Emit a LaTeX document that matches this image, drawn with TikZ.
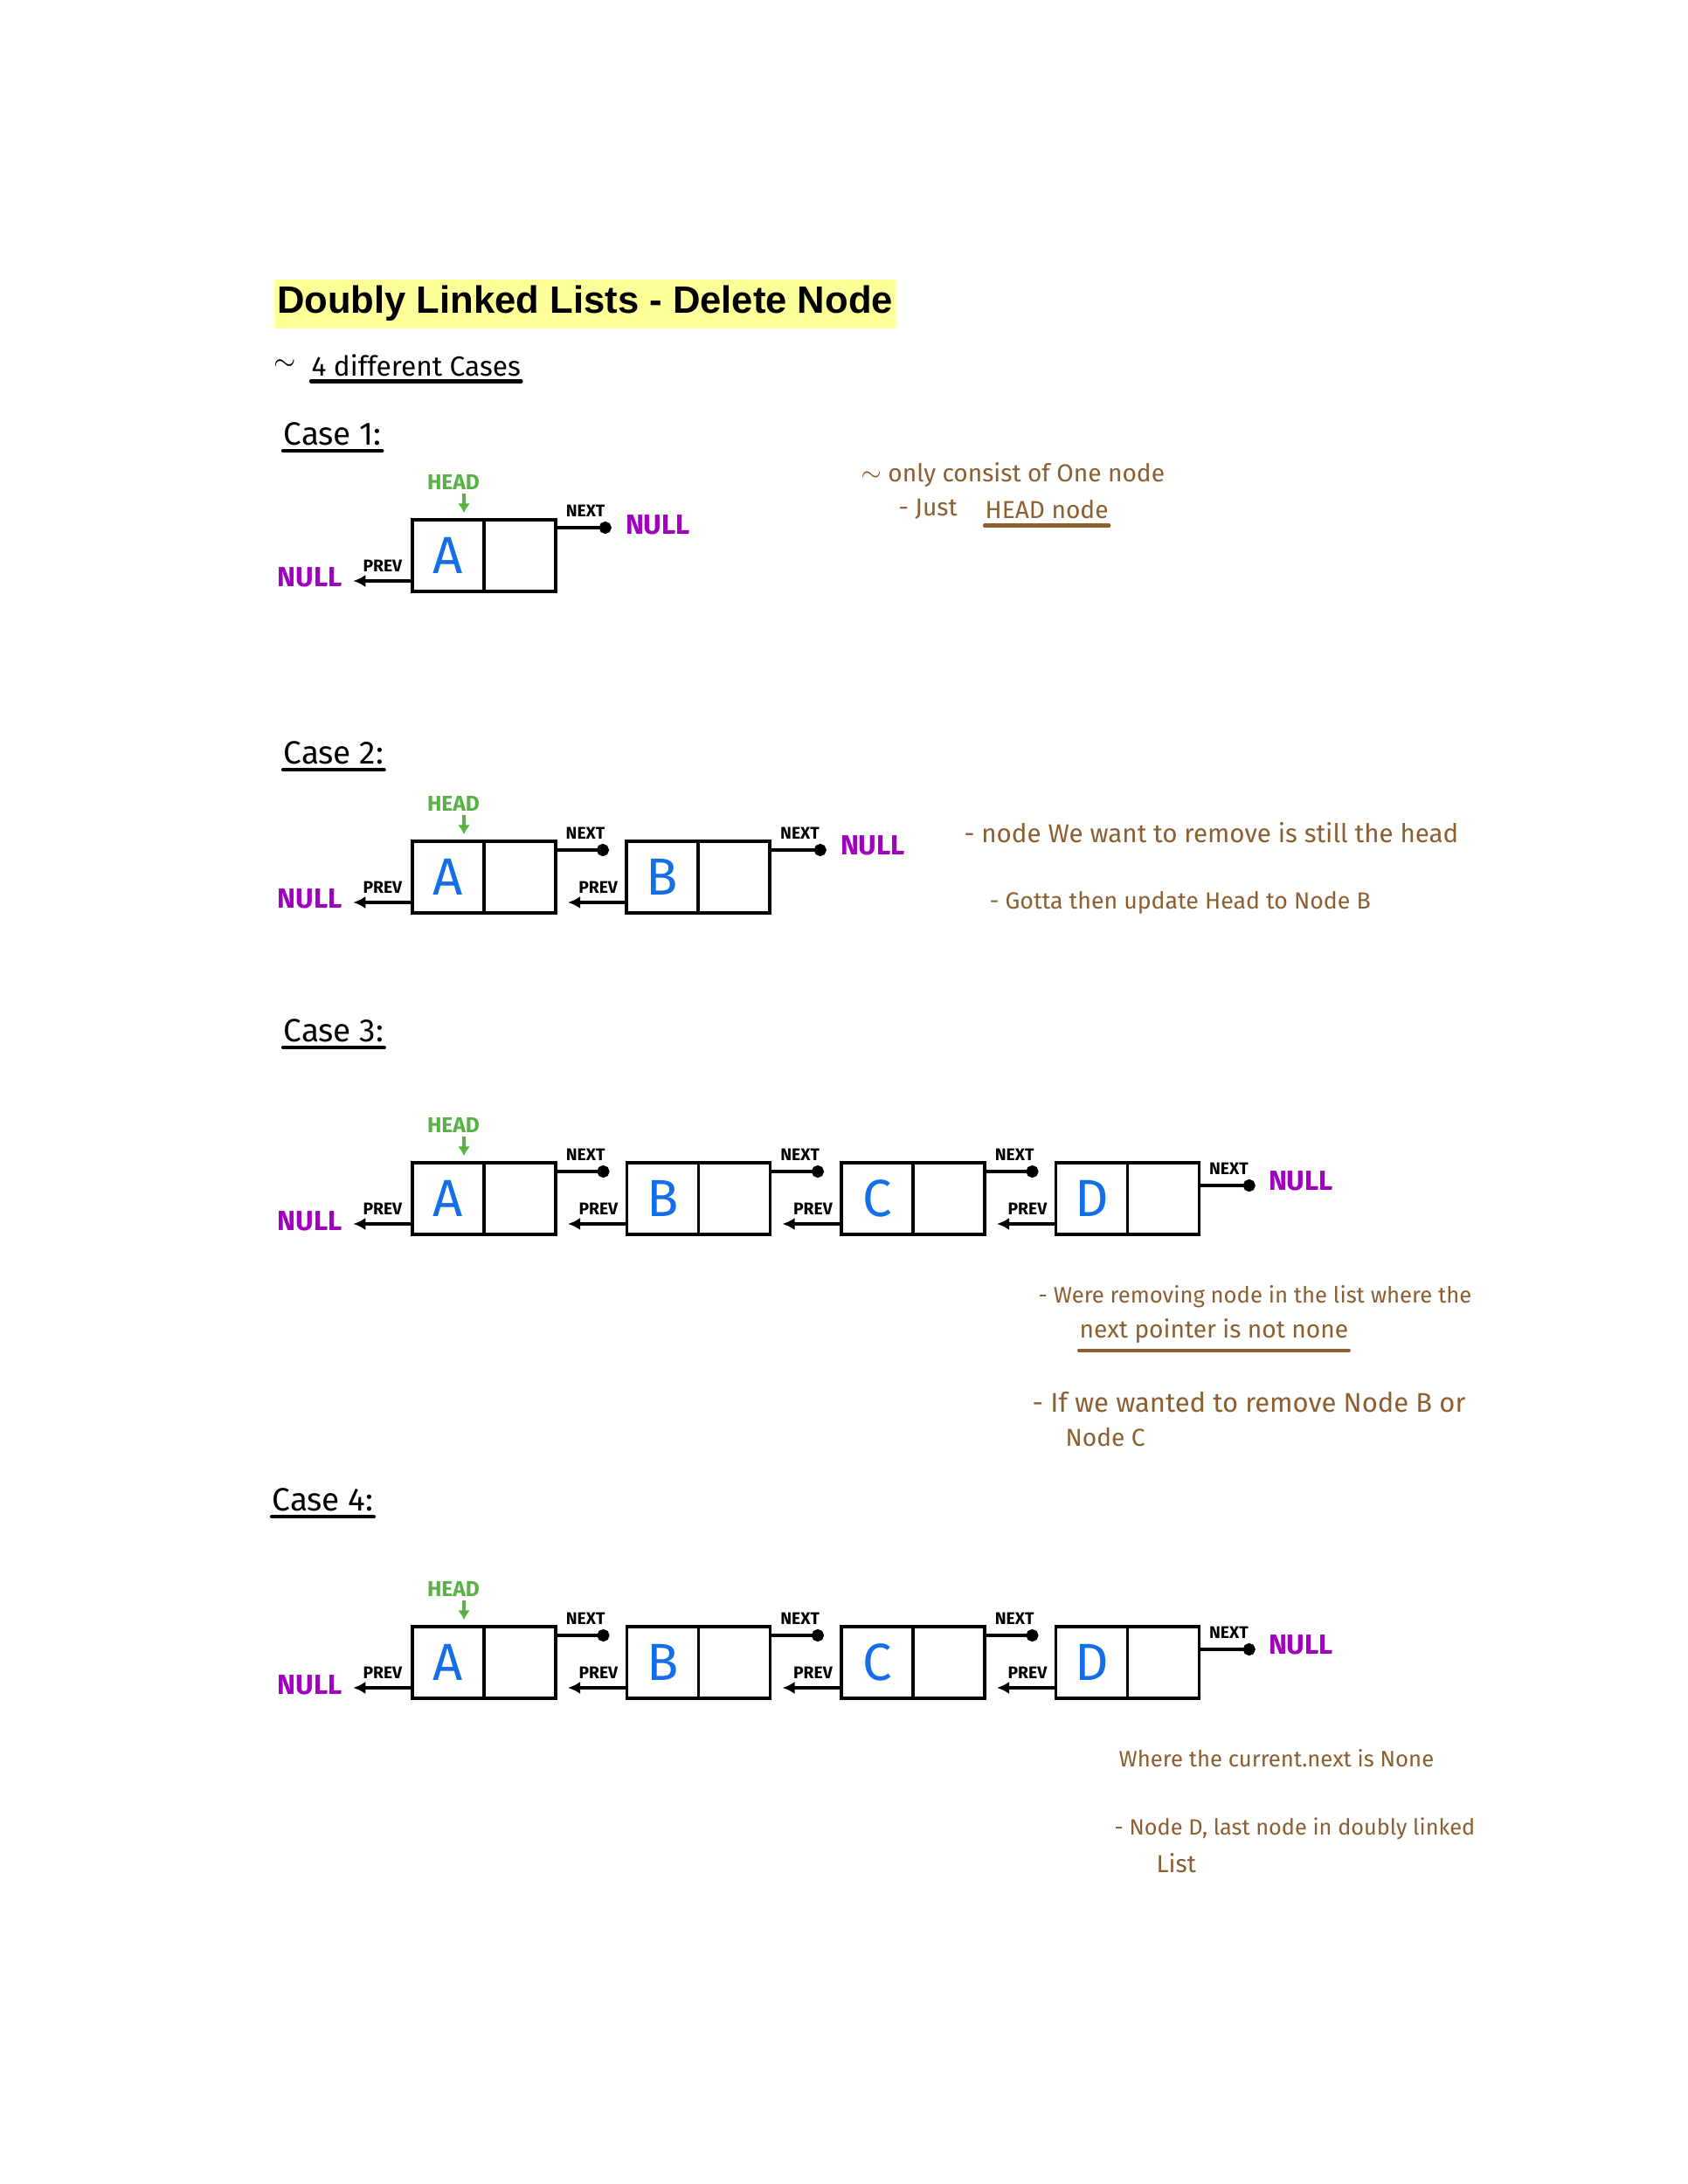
\documentclass[tikz,border=0pt]{standalone}
\usepackage{fontspec}
\setmainfont{Liberation Sans}
\newfontfamily\hand{Fira Sans}
\usetikzlibrary{positioning,arrows.meta}
\definecolor{hilite}{RGB}{255,255,153}
\definecolor{nullpurple}{RGB}{160,0,190}
\definecolor{headgreen}{RGB}{92,176,72}
\definecolor{letterblue}{RGB}{20,110,230}
\definecolor{notebrown}{RGB}{140,94,48}
\newcommand{\wave}{\raisebox{0.1ex}{$\sim$}}
\tikzset{
  cell/.style={draw, line width=1pt, minimum width=0.82cm, minimum height=0.82cm, inner sep=0pt, outer sep=0pt},
  datum/.style={cell, text=letterblue, font=\hand\fontsize{17}{17}\selectfont},
  nextptr/.style={line width=1pt, -{Circle[length=4pt]}},
  prevptr/.style={line width=1pt, -{Latex[length=4pt,width=4pt]}},
  ptrlabel/.style={font=\hand\bfseries\fontsize{5.5}{6}\selectfont, inner sep=1pt},
  nulltext/.style={text=nullpurple, font=\hand\bfseries\fontsize{9}{10}\selectfont, inner sep=1pt},
  headtext/.style={text=headgreen, font=\hand\bfseries\fontsize{7}{8}\selectfont, inner sep=1pt},
  headptr/.style={headgreen, line width=1.2pt, -{Latex[length=3pt,width=4pt]}},
  casetitle/.style={font=\hand\fontsize{10.5}{12}\selectfont, anchor=west, inner sep=0pt},
  note/.style={text=notebrown, font=\hand\fontsize{#1}{9}\selectfont, anchor=west, inner sep=0pt},
  note/.default=8,
  underl/.style={line width=1.2pt, line cap=round}
}
\begin{document}
\begin{tikzpicture}
\useasboundingbox[fill=white] (0,0) rectangle (19.32,-25);

\node[fill=hilite, anchor=north west, inner xsep=1pt, inner ysep=2pt, minimum height=0.56cm,
  font=\bfseries\fontsize{12.4}{14}\selectfont] (title) at (3.13,-3.19) {Doubly Linked Lists - Delete Node};

\node[casetitle, font=\hand\fontsize{9}{10}\selectfont] (tilde) at (3.13,-4.18) {\wave};
\node[casetitle, font=\hand\fontsize{9}{10}\selectfont] (cases) at (3.56,-4.18) {4 different Cases};
\draw[underl] ([yshift=-1.5pt]cases.south west) -- ([yshift=-1.5pt]cases.south east);

% case headings
\foreach \casenum/\x/\y in {1/3.24/-4.97, 2/3.24/-8.62, 3/3.24/-11.80, 4/3.11/-17.17}{
  \node[casetitle] (t\casenum) at (\x,\y) {Case \casenum:};
  \draw[underl] ([yshift=-1.5pt]t\casenum.south west) -- ([yshift=-1.5pt]t\casenum.south east);
}

% case 1
\begin{scope}[yshift=-5.95cm]
  \node[datum] (c1a) at (5.13,-0.41) {A};
  \node[cell, right=0pt of c1a] (c1an) {};
  \node[headtext] (h1) at ([xshift=0.06cm, yshift=0.43cm]c1a.north) {HEAD};
  \draw[headptr, shorten >=0.08cm] ([xshift=0.12cm]h1.south) -- ([xshift=0.18cm]c1a.north);
  \node[nulltext] (c1nl) at (3.55,-0.66) {NULL};
  \node[nulltext] (c1nr) at (7.53,-0.06) {NULL};
  \coordinate (c1ax) at ([yshift=-0.09cm]c1an.north east);
  \coordinate (c1ap) at ([yshift=0.12cm]c1a.south west);
  \draw[nextptr, shorten >=0.12cm] (c1ax) -- (c1ax -| c1nr.west) node[pos=0.45, ptrlabel, above=2pt] {NEXT};
  \draw[prevptr, shorten >=0.08cm] (c1ap) -- (c1ap -| c1nl.east) node[pos=0.45, ptrlabel, above=1.5pt] {PREV};
\end{scope}
\node[note] (n1a) at (9.85,-5.44) {\wave\ only consist of One node};
\node[note] (n1b) at (10.28,-5.83) {- Just};
\node[note] (n1c) at (11.27,-5.83) {HEAD node};
\draw[underl, notebrown] ([yshift=-2pt]n1c.south west) -- ([yshift=-2pt]n1c.south east);

% case 2
\begin{scope}[yshift=-9.63cm]
  \node[datum] (c2a) at (5.13,-0.41) {A};
  \node[cell, right=0pt of c2a] (c2an) {};
  \node[datum] (c2b) at (7.58,-0.41) {B};
  \node[cell, right=0pt of c2b] (c2bn) {};
  \node[headtext] (h2) at ([xshift=0.06cm, yshift=0.43cm]c2a.north) {HEAD};
  \draw[headptr, shorten >=0.08cm] ([xshift=0.12cm]h2.south) -- ([xshift=0.18cm]c2a.north);
  \node[nulltext] (c2nl) at (3.55,-0.66) {NULL};
  \node[nulltext] (c2nr) at (9.99,-0.05) {NULL};
  \draw[nextptr, shorten >=0.2cm] ([yshift=-0.1cm]c2an.north east) -- ([yshift=-0.1cm]c2b.north west)
    node[pos=0.42, ptrlabel, above=2pt] {NEXT};
  \draw[prevptr, shorten >=0.14cm] ([yshift=0.12cm]c2b.south west) -- ([yshift=0.12cm]c2an.south east)
    node[pos=0.4, ptrlabel, above=1.5pt] {PREV};
  \coordinate (c2bx) at ([yshift=-0.1cm]c2bn.north east);
  \coordinate (c2ap) at ([yshift=0.12cm]c2a.south west);
  \draw[nextptr, shorten >=0.12cm] (c2bx) -- (c2bx -| c2nr.west) node[pos=0.45, ptrlabel, above=2pt] {NEXT};
  \draw[prevptr, shorten >=0.08cm] (c2ap) -- (c2ap -| c2nl.east) node[pos=0.45, ptrlabel, above=1.5pt] {PREV};
\end{scope}
\node[note=8.4] at (11.03,-9.53) {- node We want to remove is still the head};
\node[note=7.6] at (11.32,-10.33) {- Gotta then update Head to Node B};

% cases 3 and 4
\foreach \casenum/\yoff in {3/13.31, 4/18.62}{
\begin{scope}[yshift=-\yoff cm]
  \foreach \lbl [count=\i from 0] in {A,B,C,D}{
    \node[datum] (d\casenum\lbl) at (5.13+2.455*\i,-0.41) {\lbl};
    \node[cell, right=0pt of d\casenum\lbl] (n\casenum\lbl) {};
  }
  \node[headtext] (h\casenum) at ([xshift=0.06cm, yshift=0.43cm]d\casenum A.north) {HEAD};
  \draw[headptr, shorten >=0.08cm] ([xshift=0.12cm]h\casenum.south) -- ([xshift=0.18cm]d\casenum A.north);
  \foreach \a/\b in {A/B,B/C,C/D}{
    \draw[nextptr, shorten >=0.2cm] ([yshift=-0.1cm]n\casenum\a.north east) -- ([yshift=-0.1cm]d\casenum\b.north west)
      node[pos=0.42, ptrlabel, above=2pt] {NEXT};
    \draw[prevptr, shorten >=0.14cm] ([yshift=0.12cm]d\casenum\b.south west) -- ([yshift=0.12cm]n\casenum\a.south east)
      node[pos=0.4, ptrlabel, above=1.5pt] {PREV};
  }
  \node[nulltext] (nl\casenum) at (3.55,-0.67) {NULL};
  \node[nulltext] (nr\casenum) at (14.89,-0.21) {NULL};
  \coordinate (dx\casenum) at ([yshift=-0.26cm]n\casenum D.north east);
  \coordinate (ap\casenum) at ([yshift=0.12cm]d\casenum A.south west);
  \draw[nextptr, shorten >=0.11cm] (dx\casenum) -- (dx\casenum -| nr\casenum.west)
    node[pos=0.45, ptrlabel, above=2pt] {NEXT};
  \draw[prevptr, shorten >=0.08cm] (ap\casenum) -- (ap\casenum -| nl\casenum.east)
    node[pos=0.45, ptrlabel, above=1.5pt] {PREV};
\end{scope}
}
\node[note=7.3] at (11.88,-14.84) {- Were removing node in the list where the};
\node[note] (n3b) at (12.35,-15.24) {next pointer is not none};
\draw[underl, notebrown] ([yshift=-2pt]n3b.south west) -- ([yshift=-2pt]n3b.south east);
\node[note=8.8] at (11.81,-16.05) {- If we wanted to remove Node B or};
\node[note] at (12.19,-16.45) {Node C};

\node[note=7.3] at (12.80,-20.13) {Where the current.next is None};
\node[note=7.2] at (12.75,-20.93) {- Node D, last node in doubly linked};
\node[note] at (13.23,-21.33) {List};
\end{tikzpicture}
\end{document}
